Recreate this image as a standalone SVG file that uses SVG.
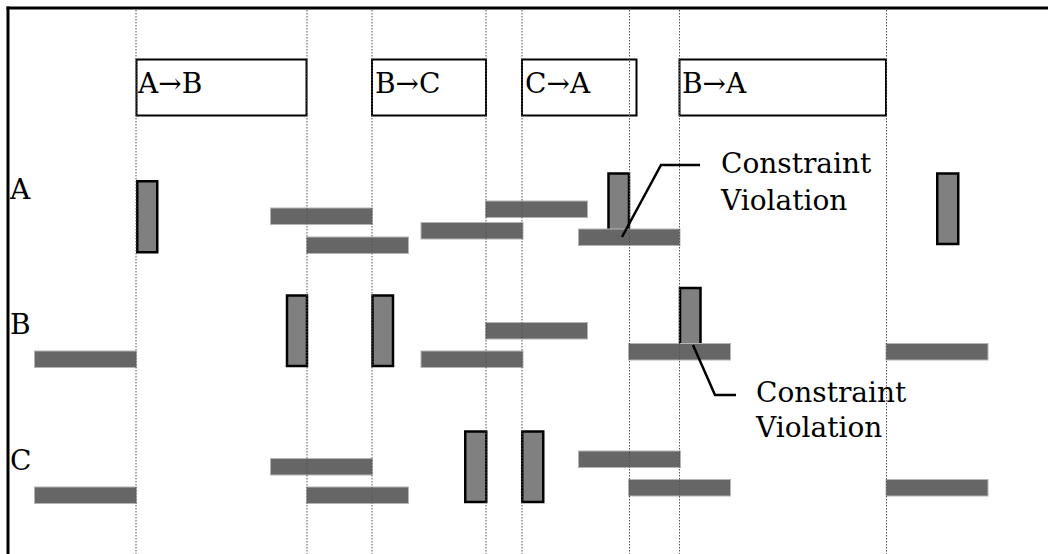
<svg xmlns="http://www.w3.org/2000/svg" width="1048" height="554" viewBox="0 0 1048 554">
<style>
text{font-family:"DejaVu Serif","Liberation Serif",serif;font-size:28px;fill:#000}
.hdr{fill:#fff;stroke:#000;stroke-width:2}
.bar{fill:#666;stroke:#b4b4b4;stroke-width:1}
.blk{fill:#808080;stroke:#000;stroke-width:2.5}
.grid{stroke:#555;stroke-width:1;stroke-dasharray:1.5 1.5;fill:none}
.frame{stroke:#000;stroke-width:3;fill:none}
.call{stroke:#000;stroke-width:2.5;fill:none}
</style>
<rect width="1048" height="554" fill="#fff"/>
<g id="frame">
<line class="frame" x1="6.5" y1="8" x2="1048" y2="8"/>
<line class="frame" x1="8" y1="6.5" x2="8" y2="554"/>
</g>
<g id="headers">
<g id="h-ab"><rect class="hdr" x="136.5" y="59.5" width="170" height="56"/><text x="138" y="93">A→B</text></g>
<g id="h-bc"><rect class="hdr" x="372" y="59.5" width="114" height="56"/><text x="375" y="93">B→C</text></g>
<g id="h-ca"><rect class="hdr" x="522" y="59.5" width="114.5" height="56"/><text x="525" y="93">C→A</text></g>
<g id="h-ba"><rect class="hdr" x="679.5" y="59.5" width="206.5" height="56"/><text x="682" y="93">B→A</text></g>
</g>
<g id="row-labels">
<text id="lbl-a" x="10" y="199">A</text>
<text id="lbl-b" x="10" y="334">B</text>
<text id="lbl-c" x="10" y="470">C</text>
</g>
<g id="row-a">
<rect id="a-blk1" class="blk" x="137.25" y="181.25" width="20" height="71"/>
<rect id="a-bar1" class="bar" x="270.5" y="208" width="102" height="16.5"/>
<rect id="a-bar2" class="bar" x="306.5" y="237" width="102" height="16.5"/>
<rect id="a-bar3" class="bar" x="485.5" y="201" width="102" height="16.5"/>
<rect id="a-bar4" class="bar" x="421" y="222.5" width="102" height="16.5"/>
<rect id="a-blk2" class="blk" x="608.5" y="173.5" width="20.5" height="66"/>
<rect id="a-bar5" class="bar" x="578.5" y="229" width="101.5" height="16.5"/>
<rect id="a-blk3" class="blk" x="937.25" y="173.5" width="21" height="70.5"/>
</g>
<g id="row-b">
<rect id="b-bar1" class="bar" x="34.5" y="351" width="102" height="16.5"/>
<rect id="b-blk1" class="blk" x="287" y="295.5" width="20" height="70.5"/>
<rect id="b-blk2" class="blk" x="372.5" y="295.5" width="20.5" height="70.5"/>
<rect id="b-bar2" class="bar" x="485.5" y="322.5" width="102" height="16.5"/>
<rect id="b-bar3" class="bar" x="421" y="351" width="102" height="16.5"/>
<rect id="b-blk3" class="blk" x="680" y="288" width="20.5" height="62"/>
<rect id="b-bar4" class="bar" x="628.5" y="343.5" width="102" height="16.5"/>
<rect id="b-bar5" class="bar" x="886" y="343.5" width="102" height="16.5"/>
</g>
<g id="row-c">
<rect id="c-bar1" class="bar" x="34.5" y="487" width="102" height="16.5"/>
<rect id="c-bar2" class="bar" x="270.5" y="458.5" width="102" height="16.5"/>
<rect id="c-bar3" class="bar" x="306.5" y="487" width="102" height="16.5"/>
<rect id="c-blk1" class="blk" x="465.25" y="431.5" width="21" height="70.5"/>
<rect id="c-blk2" class="blk" x="522.25" y="431.5" width="21" height="70.5"/>
<rect id="c-bar4" class="bar" x="578.5" y="451" width="102" height="16.5"/>
<rect id="c-bar5" class="bar" x="628.5" y="479.5" width="102" height="16.5"/>
<rect id="c-bar6" class="bar" x="886" y="479.5" width="102" height="16.5"/>
</g>
<g id="grid">
<line class="grid" x1="136" y1="10" x2="136" y2="554"/>
<line class="grid" x1="307" y1="10" x2="307" y2="554"/>
<line class="grid" x1="372" y1="10" x2="372" y2="554"/>
<line class="grid" x1="486" y1="10" x2="486" y2="554"/>
<line class="grid" x1="522" y1="10" x2="522" y2="554"/>
<line class="grid" x1="629.5" y1="10" x2="629.5" y2="554"/>
<line class="grid" x1="679.5" y1="10" x2="679.5" y2="554"/>
<line class="grid" x1="886.5" y1="10" x2="886.5" y2="554"/>
</g>
<g id="connectors">
<polyline class="call" points="622,237 661,165 700,165"/>
<polyline class="call" points="693,345 715,395 736,395"/>
</g>
<g id="callout-1">
<text x="721" y="173">Constraint</text>
<text x="721" y="210">Violation</text>
</g>
<g id="callout-2">
<text x="756" y="402">Constraint</text>
<text x="756" y="437">Violation</text>
</g>
</svg>
